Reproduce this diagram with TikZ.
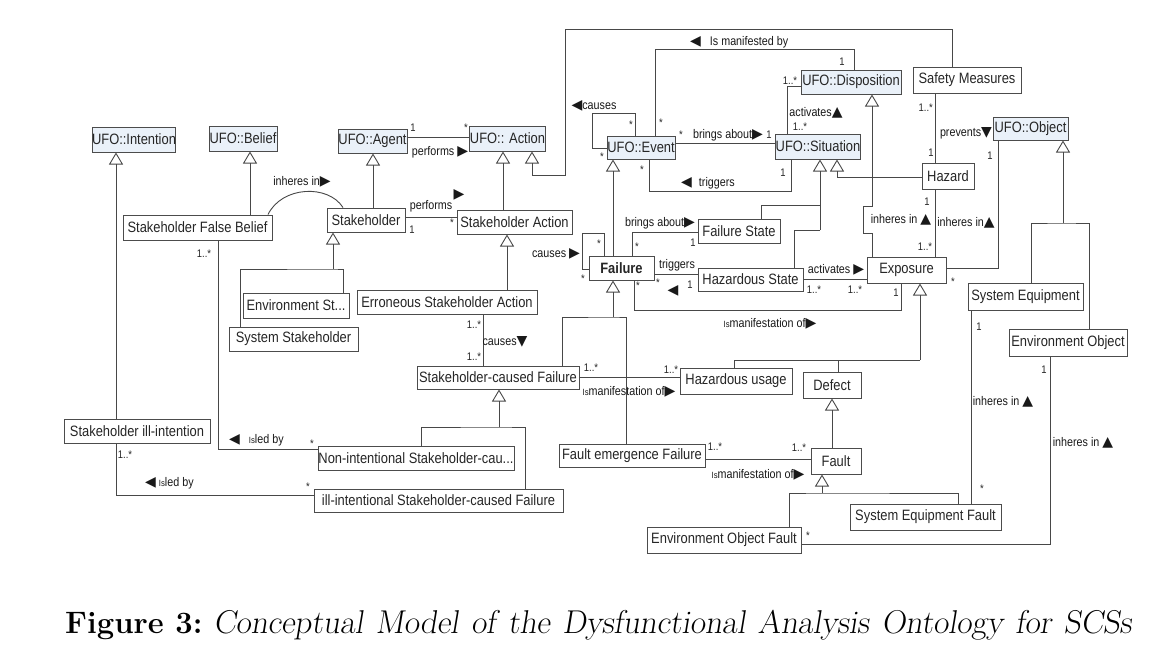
\documentclass[tikz,border=0pt]{standalone}
\usepackage{fontspec}
\usetikzlibrary{arrows.meta}
\newfontfamily\boxfont[FakeStretch=0.86]{Liberation Sans}
\newfontfamily\symfont{DejaVu Sans}
\definecolor{ufofill}{RGB}{234,241,249}
\definecolor{linegray}{RGB}{72,72,72}
% small association arrows
\newcommand{\rtri}{{\symfont\fontsize{14}{14}\selectfont ▶}}
\newcommand{\ltri}{{\symfont\fontsize{14}{14}\selectfont ◀}}
\newcommand{\utri}{{\symfont\fontsize{14}{14}\selectfont ▲}}
\newcommand{\dtri}{{\symfont\fontsize{14}{14}\selectfont ▼}}
\newcommand{\isw}{{\fontsize{9}{9}\selectfont Is}}
\begin{document}
\begin{tikzpicture}[x=1pt, y=-1pt,
    cls/.style={draw=black!70, line width=1pt, fill=white, inner sep=0pt, text=black!85,
                font=\boxfont\fontsize{15}{18}\selectfont},
    ufo/.style={cls, fill=ufofill},
    lbl/.style={inner sep=0pt, text=black!90, font=\boxfont\fontsize{12.5}{14}\selectfont},
    mul/.style={inner sep=0pt, text=black!85, font=\boxfont\fontsize{11}{13}\selectfont},
    assoc/.style={draw=linegray, line width=0.9pt},
    gen/.style={assoc, -{Triangle[open, length=12pt, width=14pt]}}]
  \useasboundingbox (0,0) rectangle (1164,664);
  \fill[white] (0,0) rectangle (1164,664);

  % classes
  \node[ufo, minimum width=78,  minimum height=25] (intent) at (134,139.5)   {UFO::Intention};
  \node[ufo, minimum width=68,  minimum height=25] (belief) at (243,138.5)   {UFO::Belief};
  \node[ufo, minimum width=69,  minimum height=24] (agent)  at (372.5,141)   {UFO::Agent};
  \node[ufo, minimum width=71,  minimum height=25] (action) at (507.5,138.5) {UFO:: Action};
  \node[ufo, minimum width=68,  minimum height=23] (event)  at (641,147.5)   {UFO::Event};
  \node[ufo, minimum width=100, minimum height=24] (disp)   at (851,82)      {UFO::Disposition};
  \node[ufo, minimum width=84,  minimum height=25] (sit)    at (818,146.5)   {UFO::Situation};
  \node[cls, minimum width=108, minimum height=26] (safety) at (967,80)      {Safety Measures};
  \node[ufo, minimum width=75,  minimum height=23] (object) at (1030.5,128.5){UFO::Object};
  \node[cls, minimum width=52,  minimum height=26] (hazard) at (948,176)     {Hazard};
  \node[cls, minimum width=149, minimum height=25] (sfb)    at (197.5,227.5) {Stakeholder False Belief};
  \node[cls, minimum width=78,  minimum height=24] (sh)     at (366,220)     {Stakeholder};
  \node[cls, minimum width=115, minimum height=24] (sha)    at (514.5,222)   {Stakeholder Action};
  \node[cls, minimum width=106, minimum height=25] (envst)  at (296,305.5)   {Environment St...};
  \node[cls, minimum width=129, minimum height=24] (syssh)  at (293.5,339)   {System Stakeholder};
  \node[cls, minimum width=180, minimum height=24] (esa)    at (447,302)     {Erroneous Stakeholder Action};
  \node[cls, minimum width=65,  minimum height=24] (failure) at (621.5,268)  {\bfseries Failure};
  \node[cls, minimum width=82,  minimum height=24] (fstate) at (739,231)     {Failure State};
  \node[cls, minimum width=105, minimum height=23] (hstate) at (750.5,279.5) {Hazardous State};
  \node[cls, minimum width=79,  minimum height=26] (expo)   at (906.5,270)   {Exposure};
  \node[cls, minimum width=115, minimum height=27] (syseq)  at (1025.5,296.5){System Equipment};
  \node[cls, minimum width=118, minimum height=27] (envobj) at (1068,342.5)  {Environment Object};
  \node[cls, minimum width=162, minimum height=23] (scf)    at (498,377.5)   {Stakeholder-caused Failure};
  \node[cls, minimum width=112, minimum height=26] (husage) at (736,381)     {Hazardous usage};
  \node[cls, minimum width=58,  minimum height=26] (defect) at (832,385)     {Defect};
  \node[cls, minimum width=146, minimum height=24] (illint) at (137,431)     {Stakeholder ill-intention};
  \node[cls, minimum width=196, minimum height=24] (nisc)   at (416,458)     {Non-intentional Stakeholder-cau...};
  \node[cls, minimum width=146, minimum height=23] (fef)    at (632,455.5)   {Fault emergence Failure};
  \node[cls, minimum width=50,  minimum height=26] (fault)  at (836,461)     {Fault};
  \node[cls, minimum width=249, minimum height=23] (iisc)   at (438.5,500.5) {ill-intentional Stakeholder-caused Failure};
  \node[cls, minimum width=151, minimum height=26] (sef)    at (925.5,517)   {System Equipment Fault};
  \node[cls, minimum width=154, minimum height=26] (eof)    at (724,540)     {Environment Object Fault};

  % generalizations
  \draw[gen] (illint.north -| 116,0) -- (intent.south -| 116,0);
  \draw[gen] (sfb.north -| 250,0) -- (belief.south -| 250,0);
  \draw[gen] (sh.north -| 373,0) -- (agent.south -| 373,0);
  \coordinate (shj) at (333,269);
  \draw[gen] (shj) -- (sh.south -| shj);
  \draw[assoc] (syssh.north -| 240,0) |- (shj) -| (envst.north -| 343,0);
  \draw[gen] (esa.north -| 507,0) -- (sha.south -| 507,0);
  \draw[gen] (sha.north -| 503,0) -- (action.south -| 503,0);
  \draw[gen] (safety.north -| 952,0) |- (565,29) |- (532,175) -- (action.south -| 532,0);
  \draw[gen] (failure.north -| 613,0) -- (event.south -| 613,0);
  \coordinate (sitj) at (820,230);
  \draw[gen] (sitj) -- (sit.south -| sitj);
  \draw[assoc] (hstate.north -| 794,0) |- (sitj);
  \draw[assoc] (fstate.north -| 761,0) |- (820,205);
  \draw[gen] (hazard.west |- 0,177) -| (sit.south -| 837,0);
  \draw[gen] (expo.north -| 872,0) -- (872,233) -- (863,233) -- (863,206) -- (872,206) -- (disp.south -| 872,0);
  \coordinate (expj) at (920,360);
  \draw[gen] (expj) -- (expo.south -| expj);
  \draw[assoc] (husage.north -| 734,0) |- (expj);
  \draw[assoc] (defect.north -| 838,0) -- (838,360);
  \draw[gen] (fault.north -| 832,0) -- (defect.south -| 832,0);
  \coordinate (faultj) at (822,493);
  \draw[gen] (faultj) -- (fault.south -| faultj);
  \draw[assoc] (eof.north -| 789,0) |- (faultj) -| (sef.north -| 958,0);
  \coordinate (failj) at (613,317);
  \draw[gen] (failj) -- (failure.south -| failj);
  \draw[assoc] (scf.north -| 562,0) |- (failj) -| (fef.north -| 626,0);
  \coordinate (scfj) at (499,427);
  \draw[gen] (scfj) -- (scf.south -| scfj);
  \draw[assoc] (nisc.north -| 421,0) |- (scfj) -| (iisc.north -| 525,0);
  \coordinate (objj) at (1063,223);
  \draw[gen] (objj) -- (object.south -| objj);
  \draw[assoc] (syseq.north -| 1031,0) |- (objj) -| (envobj.north -| 1089,0);

  % associations
  \draw[assoc] (agent.east |- 0,137) -- (action.west |- 0,137);
  \draw[assoc] (sh.east |- 0,217) -- (sha.west |- 0,217);
  \draw[assoc] (sfb.north -| 268,0) .. controls (282,186) and (328,184) .. (sh.north -| 343,0);
  \draw[assoc] (sfb.south -| 218,0) |- (nisc.west |- 0,449);
  \draw[assoc] (illint.south -| 116,0) |- (iisc.west |- 0,495);
  \draw[assoc] (esa.south -| 483,0) -- (scf.north -| 483,0);
  \draw[assoc] (scf.east |- 0,377) -- (husage.west |- 0,377);
  \draw[assoc] (fef.east |- 0,459) -- (fault.west |- 0,459);
  \draw[assoc] (event.west |- 0,148) -- (592,148) |- (635,113) -- (event.north -| 635,0);
  \draw[assoc] (event.north -| 655,0) |- (854,49) -- (disp.north -| 854,0);
  \draw[assoc] (event.east |- 0,143) -- (sit.west |- 0,143);
  \draw[assoc] (event.south -| 649,0) |- (791,191) -- (sit.south -| 791,0);
  \draw[assoc] (sit.north -| 787,0) |- (disp.west |- 0,86);
  \draw[assoc] (safety.south -| 935,0) -- (hazard.north -| 935,0);
  \draw[assoc] (hazard.south -| 935,0) -- (expo.north -| 935,0);
  \draw[assoc] (object.south -| 998,0) |- (expo.east |- 0,268);
  \draw[assoc] (failure.west |- 0,269) -- (582,269) |- (604,233) -- (failure.north -| 604,0);
  \draw[assoc] (failure.north -| 632,0) |- (fstate.west |- 0,232);
  \draw[assoc] (failure.east |- 0,274) -- (hstate.west |- 0,274);
  \draw[assoc] (failure.south -| 634,0) |- (901,310) -- (expo.south -| 901,0);
  \draw[assoc] (hstate.east |- 0,279) -- (expo.west |- 0,279);
  \draw[assoc] (syseq.south -| 971,0) -- (sef.north -| 971,0);
  \draw[assoc] (envobj.south -| 1050,0) |- (eof.east |- 0,544);

  % association names and multiplicities
  \node[lbl] (l1)  at (302,182) {inheres in\rtri};
  \node[lbl] (l2)  at (440,152) {performs \rtri};
  \node[mul] (m1)  at (413,128) {1};
  \node[mul] (m2)  at (466,128) {*};
  \node[lbl] (l3)  at (431,206) {performs};
  \node[lbl] (l4)  at (459,195) {\rtri};
  \node[mul] (m3)  at (412,230) {1};
  \node[mul] (m4)  at (452,223) {*};
  \node[mul] (m5)  at (204,254) {1..*};
  \node[lbl, anchor=west] (l5) at (229,440) {\ltri\hspace{9pt}\isw led by};
  \node[mul] (m6)  at (312,444) {*};
  \node[mul] (m7)  at (125,455) {1..*};
  \node[lbl, anchor=west] (l6) at (145,483) {\ltri\hspace{3pt}\isw led by};
  \node[mul] (m8)  at (308,487) {*};
  \node[mul] (m9)  at (474,325) {1..*};
  \node[lbl] (l7)  at (505,342) {causes\dtri};
  \node[mul] (m10) at (474,357) {1..*};
  \node[mul] (m11) at (591,368) {1..*};
  \node[mul] (m12) at (671,370) {1..*};
  \node[lbl] (l8)  at (629,392) {\isw manifestation of\rtri};
  \node[mul] (m13) at (715,447) {1..*};
  \node[mul] (m14) at (799,448) {1..*};
  \node[lbl] (l9)  at (758,475) {\isw manifestation of\rtri};
  \node[lbl] (l10) at (594,106) {\ltri causes};
  \node[mul] (m15) at (631,125) {*};
  \node[mul] (m16) at (602,157) {*};
  \node[mul] (m17) at (661,123) {*};
  \node[lbl, anchor=west] (l11) at (690,42) {\ltri\hspace{9pt}Is manifested by};
  \node[mul] (m18) at (842,62) {1};
  \node[mul] (m19) at (681,135) {*};
  \node[lbl] (l12) at (728,135) {brings about\rtri};
  \node[mul] (m20) at (769,135) {1};
  \node[mul] (m21) at (790,81) {1..*};
  \node[lbl] (l13) at (816,113) {activates\utri};
  \node[mul] (m22) at (800,127) {1..*};
  \node[mul] (m23) at (642,170) {*};
  \node[mul] (m24) at (783,173) {1};
  \node[lbl, anchor=west] (l14) at (681,183) {\ltri\hspace{7pt}triggers};
  \node[mul, anchor=east] (m25) at (933,108) {1..*};
  \node[lbl] (l15) at (966,133) {prevents\dtri};
  \node[mul] (m26) at (931,153) {1};
  \node[mul] (m27) at (990,156) {1};
  \node[mul] (m28) at (953,282) {*};
  \node[lbl] (l16) at (901,220) {inheres in \utri};
  \node[lbl] (l17) at (966,223) {inheres in\utri};
  \node[mul] (m29) at (927,202) {1};
  \node[mul] (m30) at (925,247) {1..*};
  \node[lbl] (l18) at (556,254) {causes \rtri};
  \node[mul] (m31) at (599,244) {*};
  \node[mul] (m32) at (583,279) {*};
  \node[lbl] (l19) at (660,223) {brings about\rtri};
  \node[mul] (m33) at (637,247) {*};
  \node[mul] (m34) at (693,243) {1};
  \node[lbl] (l20) at (677,265) {triggers};
  \node[mul] (m35) at (658,283) {*};
  \node[lbl] (l21) at (673,291) {\ltri};
  \node[mul] (m36) at (690,285) {1};
  \node[mul] (m37) at (638,286) {*};
  \node[lbl] (l22) at (770,324) {\isw manifestation of\rtri};
  \node[mul] (m38) at (896,293) {1};
  \node[lbl] (l23) at (836,270) {activates \rtri};
  \node[mul] (m39) at (814,290) {1..*};
  \node[mul] (m40) at (855,290) {1..*};
  \node[mul] (m41) at (979,327) {1};
  \node[lbl] (l24) at (1003,402) {inheres in \utri};
  \node[mul] (m42) at (982,489) {*};
  \node[mul] (m43) at (1044,370) {1};
  \node[lbl] (l25) at (1083,443) {inheres in \utri};
  \node[mul] (m44) at (808,536) {*};

  % caption
  \node[anchor=base west, inner sep=0pt] (cap) at (65,633)
    {\fontsize{31}{36}\selectfont\textbf{Figure 3:}\hspace{11pt}\fontsize{33}{38}\selectfont\makebox[918pt][s]{\slshape Conceptual Model of the Dysfunctional Analysis Ontology for SCSs}};
\end{tikzpicture}
\end{document}
